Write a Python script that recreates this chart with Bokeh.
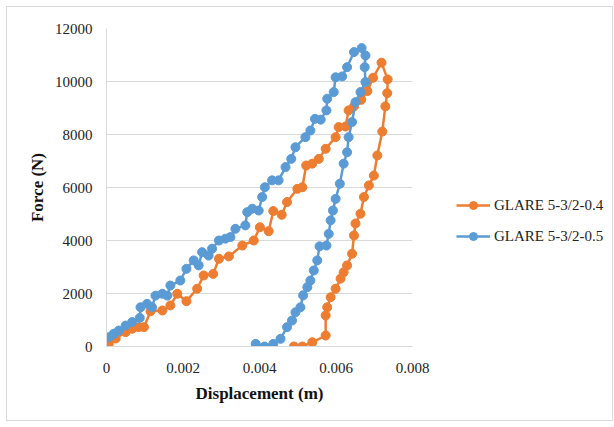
from bokeh.plotting import figure
from bokeh.layouts import row
from bokeh.models import (Legend, LegendItem, FixedTicker, CustomJSTickFormatter, Range1d)
from bokeh.embed import file_html
from bokeh.resources import INLINE

# ---- data ----
labels = ["GLARE 5-3/2-0.4", "GLARE 5-3/2-0.5"]
colors = ["#ED7D31", "#5B9BD5"]

disp_04 = [0.00006, 0.00024, 0.00050, 0.00067, 0.00084, 0.00098, 0.00115, 0.00146, 0.00167,
           0.00185, 0.00209, 0.00237, 0.00254, 0.00279, 0.00294, 0.00320, 0.00355, 0.00385,
           0.00401, 0.00424, 0.00436, 0.00458, 0.00472, 0.00499, 0.00512, 0.00522, 0.00538,
           0.00555, 0.00573, 0.00599, 0.00607, 0.00625, 0.00633, 0.00647, 0.00666, 0.00682,
           0.00697, 0.00719,
           0.00735, 0.00734, 0.00729, 0.00721, 0.00708, 0.00699, 0.00686, 0.00673, 0.00664,
           0.00651, 0.00647, 0.00642, 0.00629, 0.00620, 0.00612, 0.00599, 0.00586, 0.00577,
           0.00573, 0.00573, 0.00538, 0.00512, 0.00490]
force_04 = [100, 300, 540, 670, 730, 730, 1330, 1360, 1550,
            1990, 1710, 2180, 2680, 2740, 3310, 3400, 3810, 4000,
            4500, 4350, 5110, 4970, 5450, 5950, 6010, 6830, 6900,
            7080, 7460, 7900, 8280, 8300, 8910, 9060, 9310, 9640,
            10140, 10710,
            10080, 9560, 9060, 8110, 7210, 6450, 6080, 5640, 5010,
            4640, 4190, 3500, 3060, 2800, 2560, 2180, 1860, 1480,
            1170, 415, 160, 0, 0]

disp_05 = [0.00006, 0.00019, 0.00032, 0.00050, 0.00067, 0.00087, 0.00089, 0.00106, 0.00119,
           0.00128, 0.00146, 0.00159, 0.00167, 0.00193, 0.00209, 0.00228, 0.00241, 0.00250,
           0.00267, 0.00276, 0.00294, 0.00311, 0.00324, 0.00337, 0.00363, 0.00368, 0.00381,
           0.00398, 0.00407, 0.00414, 0.00433, 0.00450, 0.00468, 0.00483, 0.00494, 0.00520,
           0.00533, 0.00545, 0.00560, 0.00575, 0.00577, 0.00594, 0.00599, 0.00616, 0.00629,
           0.00647, 0.00667,
           0.00677, 0.00675, 0.00677, 0.00664, 0.00651, 0.00642, 0.00633, 0.00629, 0.00620,
           0.00610, 0.00599, 0.00592, 0.00586, 0.00581, 0.00575, 0.00557, 0.00551, 0.00542,
           0.00533, 0.00525, 0.00514, 0.00507, 0.00494, 0.00485, 0.00472, 0.00455, 0.00436,
           0.00413, 0.00390]
force_05 = [350, 480, 600, 790, 920, 1080, 1480, 1610, 1480,
            1920, 1990, 1920, 2300, 2490, 2930, 3250, 3060, 3560,
            3430, 3690, 4000, 4070, 4130, 4440, 4570, 5070, 5200,
            5130, 5640, 6010, 6270, 6270, 6770, 7080, 7520, 7900,
            8150, 8590, 8560, 8910, 9350, 9600, 10160, 10190, 10540,
            11110, 11260,
            10980, 10540, 9980, 9600, 9220, 8470, 7900, 7330, 6900,
            6140, 5570, 5130, 4760, 4250, 3810, 3780, 3250, 2870,
            2490, 2240, 1930, 1480, 1290, 980, 730, 290, 100,
            0, 100]

x_ticks = [0, 0.002, 0.004, 0.006, 0.008]
y_ticks = [0, 2000, 4000, 6000, 8000, 10000, 12000]

FONT = "Liberation Serif"
H = 413

p = figure(width=433, height=H, output_backend="svg", toolbar_location=None,
           x_range=Range1d(0, 0.008), y_range=Range1d(0, 12000),
           min_border_left=99, min_border_top=21, min_border_right=28, min_border_bottom=74)
p.outline_line_color = None
p.background_fill_color = "white"
p.border_fill_color = "white"

p.xgrid.grid_line_color = None
p.ygrid.grid_line_color = "#d9d9d9"
p.ygrid.grid_line_width = 1

p.xaxis.ticker = FixedTicker(ticks=x_ticks)
p.yaxis.ticker = FixedTicker(ticks=y_ticks)
p.xaxis.formatter = CustomJSTickFormatter(code="return tick == 0 ? '0' : tick.toFixed(3);")

for ax in (p.xaxis, p.yaxis):
    ax.axis_line_color = "#d9d9d9"
    ax.major_tick_line_color = None
    ax.minor_tick_line_color = None
    ax.major_label_text_font = FONT
    ax.major_label_text_font_size = "15px"
    ax.major_label_text_color = "#222222"
    ax.axis_label_text_font = FONT
    ax.axis_label_text_font_style = "bold"
    ax.axis_label_text_font_size = "17px"
    ax.axis_label_text_color = "#111111"

p.yaxis.major_tick_out = 0
p.yaxis.major_tick_in = 0
p.xaxis.axis_label = "Displacement (m)"
p.yaxis.axis_label = "Force (N)"
p.xaxis.major_label_standoff = 10
p.yaxis.major_label_standoff = 14
p.xaxis.axis_label_standoff = 8
p.yaxis.axis_label_standoff = 5

# legend panel: a second, axis-less figure whose (off-view) proxies carry the legend glyphs
p2 = figure(width=172, height=H, output_backend="svg", toolbar_location=None,
            x_range=Range1d(0, 0.008), y_range=Range1d(20000, 30000),
            x_axis_type=None, y_axis_type=None,
            min_border_left=0, min_border_right=0, min_border_top=0, min_border_bottom=0)
p2.outline_line_color = None
p2.grid.grid_line_color = None
p2.border_fill_color = "white"
p2.background_fill_color = "white"

items = []
for xs, ys, c, lab in [(disp_04, force_04, colors[0], labels[0]),
                       (disp_05, force_05, colors[1], labels[1])]:
    p.line(xs, ys, line_color=c, line_width=2.5)
    p.scatter(xs, ys, marker="circle", size=9, fill_color=c, line_color=c)
    l2 = p2.line(xs, ys, line_color=c, line_width=2.5)
    s2 = p2.scatter(xs, ys, marker="circle", size=9, fill_color=c, line_color=c)
    items.append(LegendItem(label=lab, renderers=[l2, s2]))

legend = Legend(items=items, location=(16, 100), orientation="vertical",
                label_text_font=FONT, label_text_font_size="15px", label_text_color="#222222",
                glyph_width=34, glyph_height=20, label_standoff=4, spacing=11,
                padding=0, margin=0, border_line_color=None, background_fill_alpha=0)
p2.add_layout(legend)

layout = row(p, p2)
layout.styles = {"border": "1px solid #d9d9d9", "margin-left": "6px", "margin-top": "6px"}

open("out.html", "w").write(file_html(layout, INLINE))
